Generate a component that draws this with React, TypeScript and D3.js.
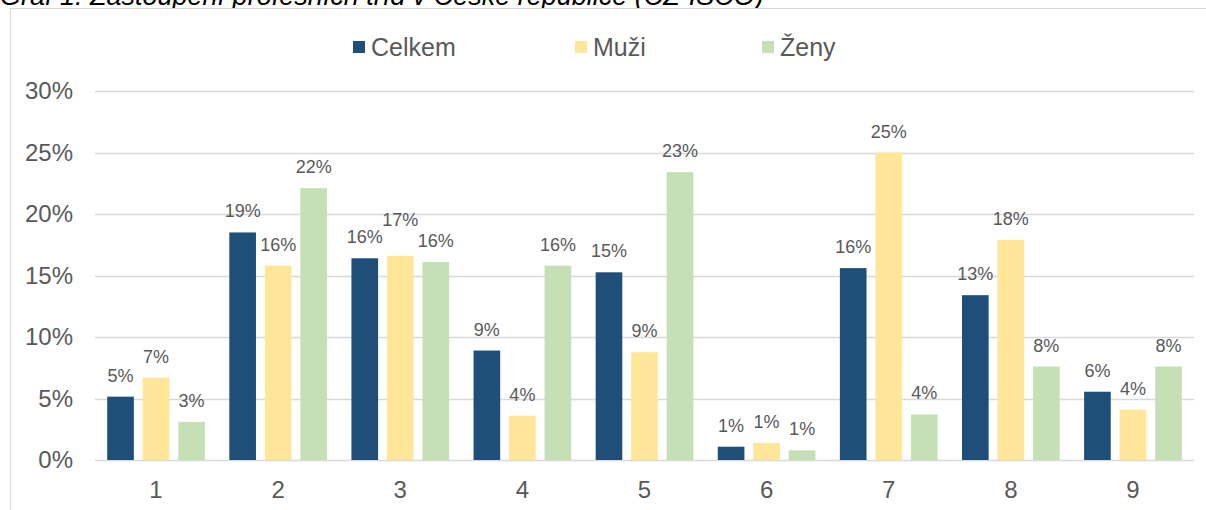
import { scaleBand, scaleLinear } from 'd3'

const width = 1206,
      height = 510,
      margin = { top: 91, right: 12, bottom: 50, left: 95 },
      plotRight = width - margin.right,
      plotBottom = 460

const title = 'Graf 1: Zastoupení profesních tříd v České republice (CZ-ISCO)'
const categories = ['1', '2', '3', '4', '5', '6', '7', '8', '9']
const series = ['Celkem', 'Muži', 'Ženy']
const colors = ['#1F4E79', '#FFE699', '#C5E0B4']
const celkem = [5.15, 18.5, 16.4, 8.9, 15.26, 1.08, 15.6, 13.4, 5.55]
const muzi = [6.7, 15.8, 16.6, 3.6, 8.76, 1.38, 25.0, 17.9, 4.1]
const zeny = [3.1, 22.1, 16.1, 15.8, 23.4, 0.79, 3.7, 7.6, 7.6]
const yTicks = [0, 5, 10, 15, 20, 25, 30]

const values = [celkem, muzi, zeny]
const textColor = '#595959'
const font = '"Liberation Sans", Arial, sans-serif'
const labelSize = 18

export default function App() {
  const x0 = scaleBand()
    .domain(categories)
    .range([margin.left, plotRight])
    .paddingInner(0.2)
    .paddingOuter(0.1)

  const x1 = scaleBand()
    .domain(series)
    .range([0, x0.bandwidth()])
    .paddingInner(0.25)

  const y = scaleLinear()
    .domain([0, 30])
    .range([plotBottom, margin.top])

  // legend item x positions (square left edge)
  const legendX = [353, 575, 762]

  // rough label width (digits .556em, % .889em)
  const labelW = (v: number) => (String(Math.round(v)).length * 0.556 + 0.889) * labelSize

  // like Excel: lift the middle label when it would collide with both neighbours
  const labelY = (i: number, j: number) => {
    const base = y(values[j][i]) - 15
    if (j === 1) {
      const step = x1.step()
      const hits = [0, 2].every(k =>
        Math.abs(y(values[k][i]) - y(values[1][i])) < 12 &&
        (labelW(values[k][i]) + labelW(values[1][i])) / 2 > step)
      if (hits) return base - 15
    }
    return base
  }

  return (
    <svg width={width} height={height}
         style={{ position: 'absolute', left: 0, top: 0, background: '#fff' }}
         fontFamily={font}>
      <text x={0} y={5} fontSize={27} fontStyle='italic' fill='#000'>{title}</text>
      <rect x={10.5} y={8.5} width={1220} height={520} fill='#fff' stroke='#D9D9D9' />

      {/* gridlines + y labels */}
      {yTicks.map(t => (
        <g key={t}>
          <line x1={margin.left} x2={plotRight} y1={Math.round(y(t)) + 0.5} y2={Math.round(y(t)) + 0.5}
                stroke='#D9D9D9' strokeWidth={1.3} />
          <text x={73} y={y(t)} dy='0.35em' textAnchor='end' fontSize={24} fill={textColor}>{t}%</text>
        </g>
      ))}

      {/* bars */}
      {categories.map((c, i) => (
        <g key={c} transform={`translate(${x0(c)},0)`}>
          {series.map((s, j) => {
            const v = values[j][i]
            const bx = x1(s) as number
            return (
              <g key={s}>
                <rect x={bx} y={y(v)} width={x1.bandwidth()} height={plotBottom - y(v)} fill={colors[j]} />
                <text x={bx + x1.bandwidth() / 2} y={labelY(i, j)} textAnchor='middle'
                      fontSize={labelSize} fill={textColor}>{Math.round(v)}%</text>
              </g>
            )
          })}
          <text x={x0.bandwidth() / 2} y={498} textAnchor='middle' fontSize={24} fill={textColor}>{c}</text>
        </g>
      ))}

      {/* legend */}
      {series.map((s, j) => (
        <g key={s} transform={`translate(${legendX[j]},0)`}>
          <rect x={0} y={41} width={12} height={12} fill={colors[j]} />
          <text x={18} y={47} dy='0.35em' fontSize={25} fill={textColor}>{s}</text>
        </g>
      ))}
    </svg>
  )
}
